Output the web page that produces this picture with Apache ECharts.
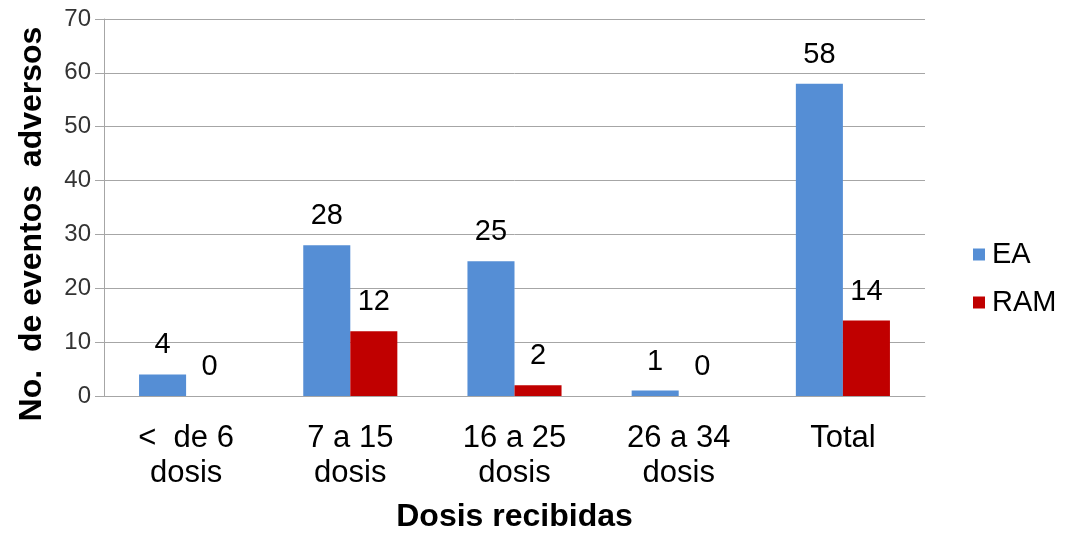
<!DOCTYPE html>
<html>
<head>
<meta charset="utf-8">
<script src="https://cdn.jsdelivr.net/npm/echarts@6/dist/echarts.min.js"></script>
<style>
  html, body { margin: 0; padding: 0; background: #fff; }
  #chart { width: 1066px; height: 533px; }
</style>
</head>
<body>
<div id="chart"></div>
<script>
// Adverse events by number of doses received
const categories = ['<  de 6\ndosis', '7 a 15\ndosis', '16 a 25\ndosis', '26 a 34\ndosis', 'Total'];
const eaValues = [4, 28, 25, 1, 58];
const ramValues = [0, 12, 2, 0, 14];
const seriesNames = ['EA', 'RAM'];
const yAxisTitle = 'No.  de eventos  adversos';
const xAxisTitle = 'Dosis recibidas';

const FONT = '"Liberation Sans", Arial, sans-serif';
const GRID_GRAY = '#a6a6a6';

const chart = echarts.init(document.getElementById('chart'));

const labelStyle = {
  show: true,
  position: 'top',
  distance: 14,
  fontFamily: FONT,
  fontSize: 29,
  lineHeight: 30,
  color: '#000'
};

chart.setOption({
  animation: false,
  backgroundColor: '#fff',
  textStyle: { fontFamily: FONT },
  grid: {
    left: 104, right: 141, top: 19, bottom: 137,
    containLabel: false,
    outerBoundsMode: 'none'
  },
  legend: {
    orient: 'vertical',
    left: 968,
    top: 235,
    itemWidth: 12,
    itemHeight: 12,
    itemGap: 19,
    icon: 'rect',
    textStyle: { fontFamily: FONT, fontSize: 29, color: '#000', padding: [0, 0, 0, 2] },
    data: seriesNames
  },
  // vertical axis title, centred a little below the plot's middle
  graphic: [{
    type: 'text',
    x: 32,
    y: 224,
    rotation: Math.PI / 2,
    style: {
      text: yAxisTitle,
      fontFamily: FONT,
      fontSize: 32,
      fontWeight: 'bold',
      fill: '#000',
      align: 'center',
      verticalAlign: 'middle'
    }
  }],
  xAxis: {
    type: 'category',
    data: categories,
    name: xAxisTitle,
    nameLocation: 'middle',
    nameGap: 105,
    nameTextStyle: { fontFamily: FONT, fontSize: 32, fontWeight: 'bold', color: '#000' },
    axisLine: { lineStyle: { color: GRID_GRAY, width: 1 } },
    axisTick: { show: false },
    axisLabel: {
      fontFamily: FONT,
      fontSize: 31,
      lineHeight: 35,
      color: '#000',
      margin: 25,
      interval: 0
    }
  },
  yAxis: {
    type: 'value',
    min: 0,
    max: 70,
    interval: 10,
    axisLine: { show: true, lineStyle: { color: GRID_GRAY, width: 1 } },
    axisTick: { show: true, length: 9, lineStyle: { color: GRID_GRAY } },
    splitLine: { show: true, lineStyle: { color: GRID_GRAY, width: 1 } },
    axisLabel: { fontFamily: FONT, fontSize: 24, color: '#333', margin: 13 }
  },
  series: [
    {
      name: seriesNames[0],
      type: 'bar',
      data: eaValues,
      barGap: '0%',
      barCategoryGap: '42.7%',
      itemStyle: { color: '#558ED5' },
      label: labelStyle
    },
    {
      name: seriesNames[1],
      type: 'bar',
      data: ramValues,
      itemStyle: { color: '#C00000' },
      label: labelStyle
    }
  ]
});
</script>
</body>
</html>
